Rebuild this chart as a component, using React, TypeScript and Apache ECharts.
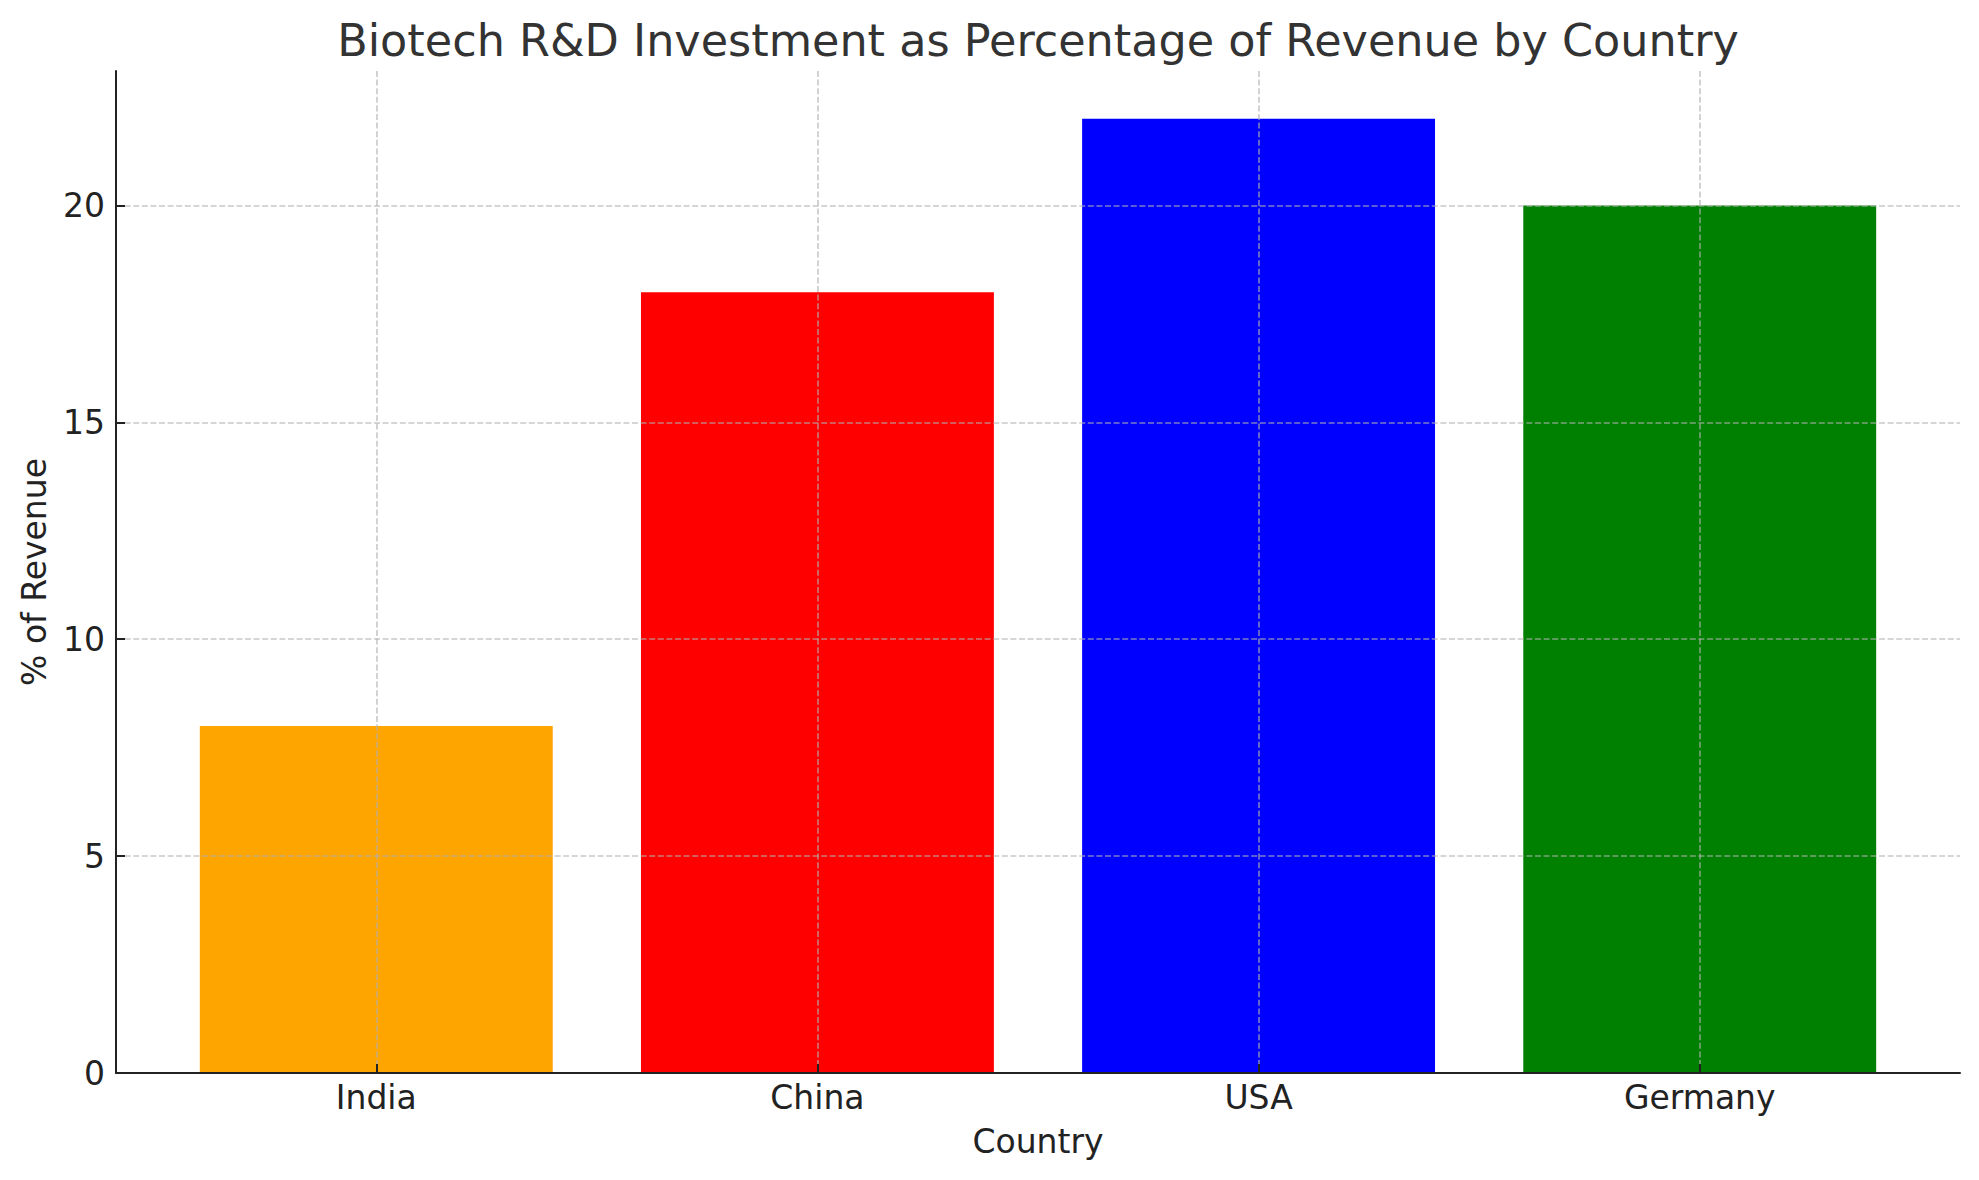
import React, { useEffect, useRef } from "react";
import * as echarts from "echarts";

const countries: string[] = ["India", "China", "USA", "Germany"];
const rdPercent: number[] = [8, 18, 22, 20];
const barColors: string[] = ["#FFA500", "#FF0000", "#0000FF", "#008000"];
const yTicks: number[] = [0, 5, 10, 15, 20];
const xTicks: number[] = [0, 1, 2, 3];

const TITLE = "Biotech R&D Investment as Percentage of Revenue by Country";
const X_NAME = "Country";
const Y_NAME = "% of Revenue";

const W = 1979;
const H = 1180;
const GRID = { left: 116, right: 19, top: 71, bottom: 107 };
const X_MIN = -0.59;
const X_MAX = 3.59;
const Y_MAX = 23.1;
const FONT = "DejaVu Sans";

export default function App() {
  const ref = useRef<HTMLDivElement>(null);

  useEffect(() => {
    if (!ref.current) return;
    const chart = echarts.init(ref.current, null, { renderer: "svg" });
    const plotW = W - GRID.left - GRID.right;
    const unit = plotW / (X_MAX - X_MIN);
    const gridLine = {
      show: true,
      lineStyle: { color: "rgba(176,176,176,0.7)", width: 1.6, type: [6, 2.6] as any },
    };
    const axisLine = { show: true, onZero: false, lineStyle: { color: "#222222", width: 2 } };
    const axisTickBase = { show: true, inside: true, length: 9, lineStyle: { color: "#222222", width: 2 } };

    chart.setOption({
      animation: false,
      backgroundColor: "#ffffff",
      title: {
        text: TITLE,
        left: GRID.left + plotW / 2 - 5,
        textAlign: "center",
        top: 13,
        textStyle: {
          fontFamily: FONT,
          fontSize: 44.5,
          fontWeight: "normal",
          color: "#333333",
          lineHeight: 44,
        },
      },
      grid: { ...GRID, containLabel: false },
      xAxis: {
        type: "value",
        min: X_MIN,
        max: X_MAX,
        z: 5,
        name: X_NAME,
        nameLocation: "middle",
        nameGap: 52,
        nameTextStyle: { fontFamily: FONT, fontSize: 33, color: "#222222", lineHeight: 33 },
        axisLine,
        axisTick: { ...axisTickBase, customValues: xTicks },
        axisLabel: {
          customValues: xTicks,
          margin: 8,
          fontFamily: FONT,
          fontSize: 33,
          color: "#222222",
          lineHeight: 33,
          formatter: (v: number) => countries[Math.round(v)] ?? "",
        },
        splitLine: gridLine,
      },
      yAxis: {
        type: "value",
        min: 0,
        max: Y_MAX,
        z: 5,
        name: Y_NAME,
        nameLocation: "middle",
        nameRotate: 90,
        nameGap: 65,
        nameTextStyle: { fontFamily: FONT, fontSize: 33, color: "#222222", lineHeight: 33 },
        axisLine,
        axisTick: { ...axisTickBase, customValues: yTicks },
        axisLabel: {
          customValues: yTicks,
          margin: 11,
          fontFamily: FONT,
          fontSize: 33,
          color: "#222222",
        },
        splitLine: gridLine,
      },
      series: [
        {
          type: "bar",
          barWidth: unit * 0.8,
          z: 2,
          data: rdPercent.map((v, i) => ({
            value: [i, v],
            itemStyle: { color: barColors[i] },
          })),
        },
      ],
    });
    return () => chart.dispose();
  }, []);

  return (
    <div
      ref={ref}
      style={{ position: "fixed", left: 0, top: 0, width: W, height: H, background: "#fff" }}
    />
  );
}
